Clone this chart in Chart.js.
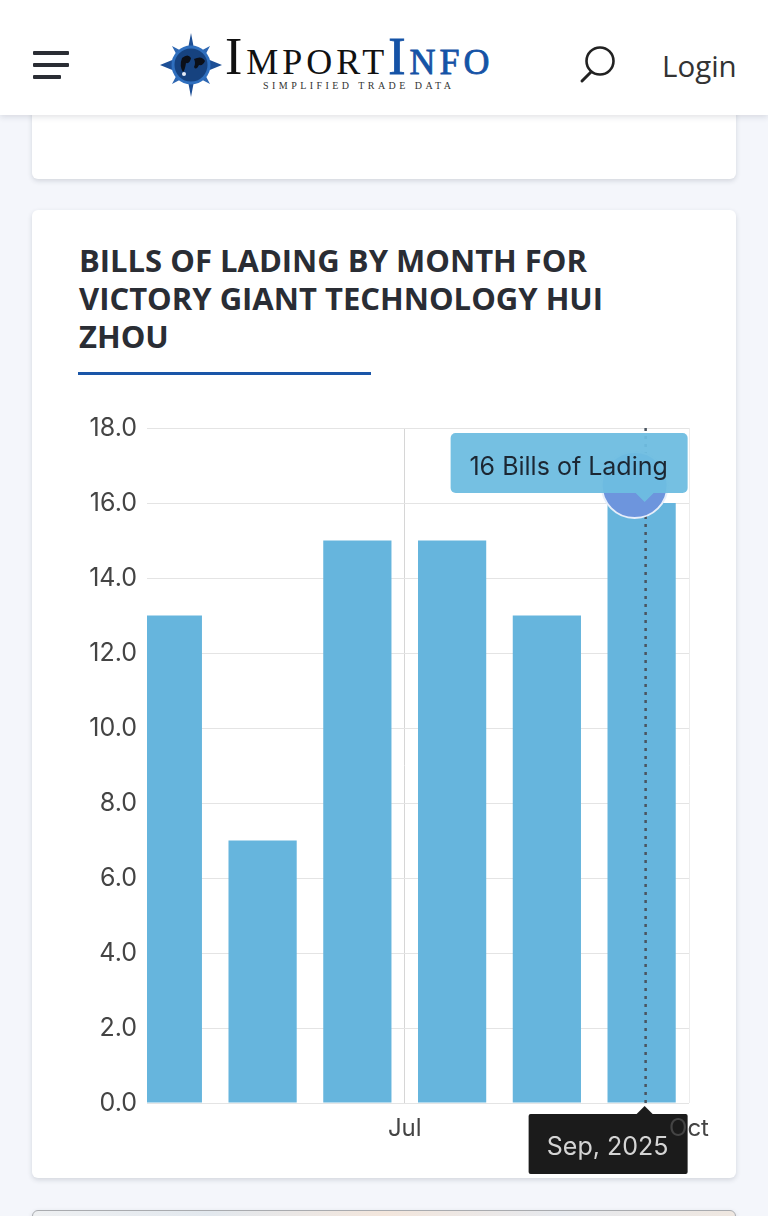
<!DOCTYPE html>
<html>
<head>
<meta charset="utf-8">
<title>Bills of Lading by Month</title>
<script src="https://cdn.jsdelivr.net/npm/chart.js@4"></script>
<style>
  html, body { margin: 0; padding: 0; }
  body { width: 768px; height: 1216px; background: #f4f6fb; overflow: hidden; position: relative; font-family: "Open Sans", sans-serif; }
  .card { position: absolute; left: 32px; width: 704px; background: #fff; border-radius: 6px; box-shadow: 0 2px 5px rgba(40, 50, 70, 0.16); }
  #header { position: absolute; left: 0; top: 0; width: 768px; height: 115px; background: #fff; box-shadow: 0 2px 6px rgba(40, 50, 70, 0.14); z-index: 3; }
  #header > * { position: absolute; }
  .brand { left: 225px; top: 29px; font: 52px/56px "Liberation Serif", serif; font-variant: small-caps; white-space: nowrap; color: #111; letter-spacing: 4px; }
  .brand span { color: #1553a6; -webkit-text-stroke: 0.8px #1553a6; }
  .tagline { left: 263px; top: 80px; font: 10px/12px "Liberation Serif", serif; letter-spacing: 3.45px; color: #333; white-space: nowrap; }
  .login { left: 662px; top: 45px; font-size: 29.5px; line-height: 42px; color: #333; }
  h2 { position: absolute; left: 79px; top: 241px; width: 560px; margin: 0; font-size: 31px; line-height: 38px; font-weight: 700; color: #2a2d34; }
  #rule { position: absolute; left: 78px; top: 372px; width: 293px; height: 3px; background: #1a56a8; }
  #chart { position: absolute; left: 32px; top: 403px; }
  #next { background: linear-gradient(90deg, #eef0f2 0%, #e2e8ee 25%, #f3e6dc 50%, #e6e9ee 75%, #efe7e0 100%); }
</style>
</head>
<body>
<div id="header">
  <svg style="left:33px;top:50px" width="37" height="30">
    <g fill="#2a2d34"><rect x="0" y="1" width="36" height="4" rx="1"/><rect x="0" y="13" width="36" height="4" rx="1"/><rect x="0" y="25" width="28" height="4" rx="1"/></g>
  </svg>
  <svg style="left:158px;top:32px" width="66" height="66" viewBox="0 0 66 66">
    <path d="M33 1 L37 22 L64 33 L37 44 L33 65 L29 44 L2 33 L29 22 Z" fill="#1d4f96"/>
    <path d="M14 14 L33 24 L52 14 L42 33 L52 52 L33 42 L14 52 L24 33 Z" fill="#2e67b2"/>
    <circle cx="33" cy="33" r="18" fill="#16427f" stroke="#2f6fbe" stroke-width="3"/>
    <path d="M24 26 q6 -5 9 0 q-1 6 -5 5 q-1 7 -3 9 q-4 -6 -1 -14 Z M36 27 q8 -4 11 2 q-2 5 -6 4 q-3 6 -5 2 q2 -4 0 -8 Z" fill="#0b0f18"/>
    <circle cx="26" cy="42" r="2" fill="#e8eef8"/>
  </svg>
  <div class="brand">Import<span>Info</span></div>
  <div class="tagline">SIMPLIFIED TRADE DATA</div>
  <svg style="left:578px;top:44px" width="40" height="40">
    <circle cx="22" cy="17" r="13.5" fill="none" stroke="#222" stroke-width="2.6"/>
    <line x1="13" y1="28" x2="4" y2="37" stroke="#222" stroke-width="3" stroke-linecap="round"/>
  </svg>
  <div class="login">Login</div>
</div>

<div class="card" style="top:100px;height:79px"></div>
<div class="card" style="top:210px;height:968px"></div>
<div class="card" id="next" style="top:1210px;height:40px;border:1px solid #a9abaf;box-sizing:border-box"></div>

<h2>BILLS OF LADING BY MONTH FOR VICTORY GIANT TECHNOLOGY HUI ZHOU</h2>
<div id="rule"></div>
<canvas id="chart" width="704" height="777"></canvas>

<script>
// month numbers, bars sit in the middle of their month
const months = [4.5, 5.5, 6.5, 7.5, 8.5, 9.5];
const bills = [13, 7, 15, 15, 13, 16];
const monthNames = ['Apr, 2025', 'May, 2025', 'Jun, 2025', 'Jul, 2025', 'Aug, 2025', 'Sep, 2025'];
const xTickValues = [7, 10];
const xTickLabels = ['Jul', 'Oct'];
const yMax = 18;
const yStep = 2;
const activeIndex = 5;

function roundBox(ctx, x, y, w, h, r) {
  ctx.beginPath();
  ctx.roundRect(x, y, w, h, r);
  ctx.fill();
}

// black label under the axis, painted first so the Oct tick sits on top of it
const axisTooltip = {
  id: 'axisTooltip',
  beforeDraw(chart) {
    const ctx = chart.ctx;
    const x = chart.scales.x.getPixelForValue(months[activeIndex]) + 3;
    const top = chart.chartArea.bottom + 11;
    ctx.save();
    ctx.fillStyle = '#1b1b1b';
    roundBox(ctx, x - 116, top, 159, 60, 2);
    ctx.beginPath();
    ctx.moveTo(x - 8, top);
    ctx.lineTo(x, top - 8);
    ctx.lineTo(x + 8, top);
    ctx.fill();
    ctx.fillStyle = '#d4d4d4';
    ctx.font = '25px Inter';
    ctx.textAlign = 'center';
    ctx.textBaseline = 'middle';
    ctx.fillText(monthNames[activeIndex], x - 37, top + 33);
    ctx.restore();
  }
};

// crosshair, marker and value label for the hovered month
const hoverLabel = {
  id: 'hoverLabel',
  afterDraw(chart) {
    const ctx = chart.ctx;
    const area = chart.chartArea;
    const x = chart.scales.x.getPixelForValue(months[activeIndex]) + 3;
    const y = chart.scales.y.getPixelForValue(bills[activeIndex]);
    ctx.save();
    ctx.strokeStyle = '#4a5560';
    ctx.lineWidth = 2.5;
    ctx.setLineDash([3, 5]);
    ctx.beginPath();
    ctx.moveTo(x + 1, area.top);
    ctx.lineTo(x + 1, area.bottom);
    ctx.stroke();
    ctx.setLineDash([]);

    ctx.fillStyle = '#6d95dd';
    ctx.strokeStyle = '#e6eefa';
    ctx.lineWidth = 2;
    ctx.beginPath();
    ctx.arc(x - 10, y - 18, 33, 0, Math.PI * 2);
    ctx.fill();
    ctx.stroke();

    const top = y - 70;
    ctx.fillStyle = 'rgba(110, 189, 224, 0.95)';
    roundBox(ctx, x - 194, top, 237, 60, 5);
    ctx.beginPath();
    ctx.moveTo(x - 9, top + 60);
    ctx.lineTo(x, top + 69);
    ctx.lineTo(x + 9, top + 60);
    ctx.fill();
    ctx.fillStyle = '#1c2733';
    ctx.font = '25px Inter';
    ctx.textAlign = 'center';
    ctx.textBaseline = 'middle';
    ctx.fillText(bills[activeIndex] + ' Bills of Lading', x - 76, top + 34);
    ctx.restore();
  }
};

new Chart(document.getElementById('chart').getContext('2d'), {
  type: 'bar',
  data: {
    datasets: [{
      data: months.map((m, i) => ({ x: m, y: bills[i] })),
      backgroundColor: '#66b5dd',
      barPercentage: 0.72,
      categoryPercentage: 1
    }]
  },
  options: {
    responsive: false,
    animation: false,
    layout: { padding: { top: 14, right: 47, bottom: 0, left: 0 } },
    plugins: { legend: { display: false }, tooltip: { enabled: false } },
    scales: {
      x: {
        type: 'linear',
        min: 4.28,
        max: 10,
        offset: false,
        afterBuildTicks: (scale) => { scale.ticks = xTickValues.map(v => ({ value: v })); },
        afterFit: (scale) => { scale.height = 77; },
        border: { display: false },
        grid: {
          offset: false,
          drawTicks: false,
          color: (c) => c.tick && c.tick.value === 7 ? '#d6d6d6' : '#ececec'
        },
        ticks: {
          autoSkip: false,
          maxRotation: 0,
          padding: 11,
          color: '#444',
          font: { family: 'Inter', size: 24 },
          callback: (v) => xTickLabels[xTickValues.indexOf(v)]
        }
      },
      y: {
        min: 0,
        max: yMax,
        afterFit: (scale) => { scale.width = 115; },
        border: { display: false },
        grid: { drawTicks: false, color: '#e4e4e4' },
        ticks: {
          stepSize: yStep,
          padding: 10,
          color: '#444',
          font: { family: 'Inter', size: 25 },
          callback: (v) => v.toFixed(1)
        }
      }
    }
  },
  plugins: [axisTooltip, hoverLabel]
});
</script>
</body>
</html>
